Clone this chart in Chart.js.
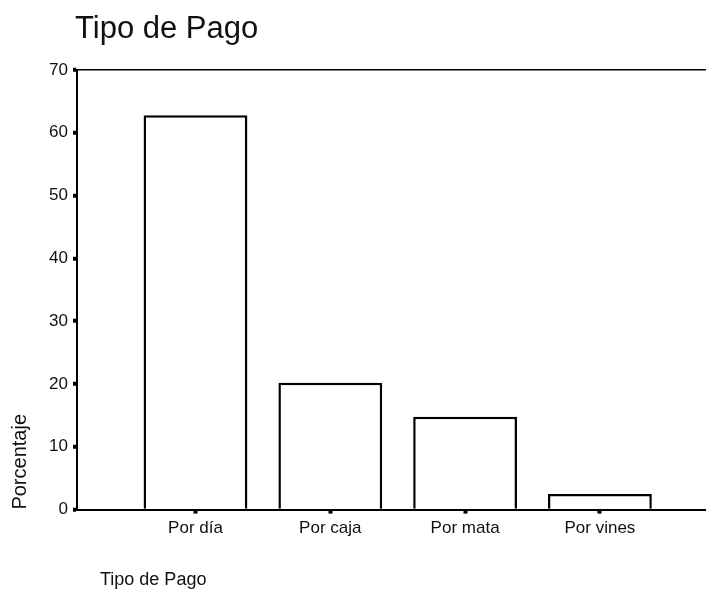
<!DOCTYPE html>
<html>
<head>
<meta charset="utf-8">
<title>Tipo de Pago</title>
<script src="https://cdn.jsdelivr.net/npm/chart.js@4.4.1/dist/chart.umd.min.js"></script>
<style>
    html, body { margin: 0; padding: 0; background: #fff; }
    canvas { display: block; }
</style>
</head>
<body>
<canvas id="chart" width="706" height="594"></canvas>
<script>
// Chart data
const categories = ['Por día', 'Por caja', 'Por mata', 'Por vines'];
const percentages = [62.8, 20.2, 14.8, 2.5];
const yTicks = [0, 10, 20, 30, 40, 50, 60, 70];

const chartTitle = 'Tipo de Pago';
const xTitle = 'Tipo de Pago';
const yTitle = 'Porcentaje';

const FONT = '"Liberation Sans", Arial, sans-serif';

// Draws the big title at the top and the x axis title at the bottom left
const titlesPlugin = {
    id: 'titles',
    afterDraw: function (chart) {
        const ctx = chart.ctx;
        ctx.save();
        ctx.fillStyle = '#111';
        ctx.textBaseline = 'alphabetic';
        ctx.textAlign = 'left';
        ctx.font = '31px ' + FONT;
        ctx.fillText(chartTitle, 75, 38);
        ctx.font = '18px ' + FONT;
        ctx.fillText(xTitle, 100, 585);
        ctx.restore();
    }
};

const ctx = document.getElementById('chart');

new Chart(ctx, {
    type: 'bar',
    data: {
        datasets: [{
            label: yTitle,
            data: percentages.map((v, i) => ({ x: i, y: v })),
            backgroundColor: '#ffffff',
            borderColor: '#000000',
            borderWidth: 2.5,
            categoryPercentage: 1,
            barPercentage: 0.77
        }]
    },
    options: {
        responsive: false,
        animation: false,
        layout: {
            padding: { top: 70, right: 0, bottom: 50, left: 0 }
        },
        plugins: {
            legend: { display: false },
            tooltip: { enabled: false },
            title: { display: false }
        },
        scales: {
            x: {
                type: 'linear',
                offset: false,
                min: -0.879,
                max: 3.787,
                border: { color: '#000', width: 2 },
                grid: {
                    offset: false,
                    drawOnChartArea: false,
                    tickLength: 4,
                    tickColor: '#000',
                    tickWidth: 4
                },
                ticks: {
                    stepSize: 1,
                    includeBounds: false,
                    autoSkip: false,
                    maxRotation: 0,
                    padding: 5,
                    color: '#111',
                    font: { family: FONT, size: 17 },
                    callback: (v) => categories[v] ?? ''
                }
            },
            y: {
                min: yTicks[0],
                max: yTicks[yTicks.length - 1],
                afterFit: (scale) => { scale.width = 77; },
                border: { color: '#000', width: 2 },
                grid: {
                    color: (c) => (c.tick && c.tick.value === yTicks[yTicks.length - 1]) ? '#000' : 'rgba(0,0,0,0)',
                    lineWidth: 1.5,
                    tickLength: 4,
                    tickColor: '#000',
                    tickWidth: 4
                },
                ticks: {
                    stepSize: 10,
                    padding: 5,
                    color: '#111',
                    font: { family: FONT, size: 17 }
                },
                title: {
                    display: true,
                    text: yTitle,
                    align: 'start',
                    color: '#111',
                    padding: { top: 8, bottom: 0 },
                    font: { family: FONT, size: 20 }
                }
            }
        }
    },
    plugins: [titlesPlugin]
});
</script>
</body>
</html>
